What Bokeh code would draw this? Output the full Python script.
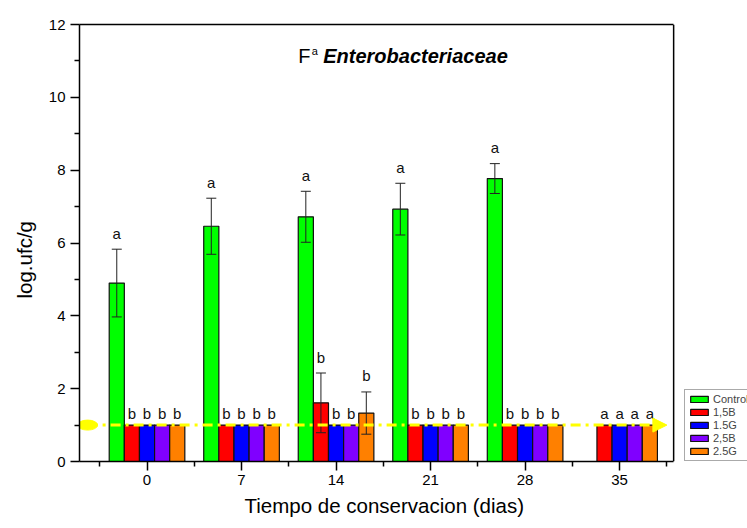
from bokeh.plotting import figure
from bokeh.models import (ColumnDataSource, FixedTicker, Whisker, TeeHead, Arrow,
                          NormalHead, Legend, LegendItem, Label, LinearAxis, Span,
                          Title)
from bokeh.core.properties import value
from bokeh.embed import file_html
from bokeh.resources import INLINE

# ---------------- data ----------------
days = [0, 7, 14, 21, 28, 35]
series_names = ["Control", "1,5B", "1.5G", "2,5B", "2.5G"]
series_colors = ["#00FF00", "#FF0000", "#0000FF", "#8000FF", "#FF8000"]

control = [4.90, 6.46, 6.72, 6.93, 7.77, None]
control_err = [0.93, 0.77, 0.70, 0.71, 0.41, None]
b15 = [1.0, 1.0, 1.61, 1.0, 1.0, 1.0]
b15_err = [0, 0, 0.82, 0, 0, 0]
g15 = [1.0, 1.0, 1.0, 1.0, 1.0, 1.0]
g15_err = [0, 0, 0, 0, 0, 0]
b25 = [1.0, 1.0, 1.0, 1.0, 1.0, 1.0]
b25_err = [0, 0, 0, 0, 0, 0]
g25 = [1.0, 1.0, 1.33, 1.0, 1.0, 1.0]
g25_err = [0, 0, 0.58, 0, 0, 0]

letters_control = ["a", "a", "a", "a", "a", ""]
letters_other = ["b", "b", "b", "b", "b", "a"]

limit_level = 1.0
y_ticks = [0, 2, 4, 6, 8, 10, 12]
y_minor = [1, 3, 5, 7, 9, 11]
x_minor = [-3.5, 3.5, 10.5, 17.5, 24.5, 31.5, 38.5]

x_title = "Tiempo de conservacion (dias)"
y_title = "log.ufc/g"

values = [control, b15, g15, b25, g25]
errors = [control_err, b15_err, g15_err, b25_err, g25_err]
letters = [letters_control] + [letters_other] * 4

bar_w = 1.12
offsets = [-2.24, -1.12, 0.0, 1.12, 2.24]

X0, X1 = -5, 39          # visible axis box
X_EXT = 44.47            # extra room on the right for the legend
FONT = "Liberation Sans"

p = figure(width=747, height=528, x_range=(X0, X_EXT), y_range=(0, 12),
           output_backend="svg", toolbar_location=None,
           min_border_left=78, min_border_right=0, min_border_top=24,
           min_border_bottom=67)
p.xgrid.visible = False
p.ygrid.visible = False
p.outline_line_color = None
p.background_fill_color = "white"
p.border_fill_color = "white"

legend_items = []
for name, col, vals, errs, lets, off in zip(series_names, series_colors, values,
                                            errors, letters, offsets):
    xs, tops, ups, lows, ls, lo_ff = [], [], [], [], [], []
    for d, v, e, l in zip(days, vals, errs, lets):
        if v is None:
            continue
        xs.append(d + off)
        tops.append(v)
        ee = e or 0
        ups.append(v + ee)
        lows.append(v - ee)
        ls.append(l)
        lo_ff.append(-16 if ee > 0 else -12)
    src = ColumnDataSource(dict(x=xs, top=tops, up=ups, low=lows, lab=ls, yo=lo_ff))
    r = p.vbar(x="x", top="top", width=bar_w, bottom=0, source=src,
               fill_color=col, line_color="#111111", line_width=1.2)
    legend_items.append(LegendItem(label=name, renderers=[r]))
    esrc = ColumnDataSource(dict(
        x=[x for x, u, t in zip(xs, ups, tops) if u > t],
        up=[u for u, t in zip(ups, tops) if u > t],
        low=[lo for lo, u, t in zip(lows, ups, tops) if u > t]))
    if len(esrc.data["x"]):
        w = Whisker(base="x", upper="up", lower="low", source=esrc, level="annotation",
                    line_color="#222222", line_width=1,
                    upper_head=TeeHead(size=10, line_color="#222222", line_width=1),
                    lower_head=TeeHead(size=10, line_color="#222222", line_width=1))
        p.add_layout(w)
    p.text(x="x", y="up", text="lab", source=src, text_align="center",
           text_baseline="alphabetic", y_offset="yo",
           text_font=value(FONT), text_font_size="15px", text_color="#111111")

# dash-dot limit line with arrow and start ellipse
p.ellipse(x=[-4.4], y=[limit_level], width=20, height=10, width_units="screen",
          height_units="screen", fill_color="#FFFF00", line_color="#FFFF00")
arrow = Arrow(x_start=-4.4, y_start=limit_level, x_end=38.5, y_end=limit_level,
              line_color="#FFFF00", line_width=3, line_dash="10 5 3 5",
              end=NormalHead(size=14, fill_color="#FFFF00", line_color="#FFFF00"))
p.add_layout(arrow)

# axes
p.xaxis.ticker = FixedTicker(ticks=days, minor_ticks=x_minor)
p.xaxis.bounds = (X0, X1)
p.yaxis.ticker = FixedTicker(ticks=y_ticks, minor_ticks=y_minor)
for ax in (p.xaxis[0], p.yaxis[0]):
    ax.axis_line_color = "black"
    ax.axis_line_width = 1.5
    ax.major_tick_line_color = "black"
    ax.major_tick_line_width = 1.5
    ax.minor_tick_line_color = "black"
    ax.minor_tick_line_width = 1.5
    ax.major_tick_in = 0
    ax.major_tick_out = 9
    ax.minor_tick_in = 0
    ax.minor_tick_out = 5
    ax.major_label_text_font = FONT
    ax.major_label_text_font_size = "15px"
    ax.major_label_text_color = "black"
p.xaxis.major_label_standoff = 4
p.yaxis.major_label_standoff = 5

# axis titles (as titles so they can be shifted like in the reference)
p.add_layout(Title(text=x_title, align="left", offset=165, standoff=9,
                   text_font=FONT, text_font_size="20.5px",
                   text_font_style="normal", text_color="black"), "below")
p.add_layout(Title(text=y_title, align="left", offset=163, standoff=20,
                   text_font=FONT, text_font_size="20.5px",
                   text_font_style="normal", text_color="black"), "left")

# top and right sides of the box
top_axis = LinearAxis(bounds=(X0, X1), ticker=FixedTicker(ticks=[]),
                      axis_line_color="black", axis_line_width=1.5,
                      major_tick_line_color=None, minor_tick_line_color=None,
                      major_label_text_font_size="0px")
p.add_layout(top_axis, "above")
p.add_layout(Span(location=X1, dimension="height", line_color="black",
                  line_width=1.5))

# title pieces
p.add_layout(Label(x=11.2, y=10.82, text="F", text_font=FONT,
                   text_font_size="20px", text_color="black"))
p.add_layout(Label(x=12.2, y=11.12, text="a", text_font=FONT,
                   text_font_size="11px", text_color="black"))
p.add_layout(Label(x=13.05, y=10.82, text="Enterobacteriaceae", text_font=FONT,
                   text_font_size="20px", text_font_style="bold italic",
                   text_color="black"))

legend = Legend(items=legend_items, location=(605, 0))
legend.glyph_width = 22
legend.glyph_height = 8
legend.label_height = 9
legend.spacing = 1
legend.padding = 3
legend.margin = 0
legend.label_standoff = 3
legend.label_text_font = FONT
legend.label_text_font_size = "11px"
legend.border_line_color = "#555555"
legend.border_line_width = 1
legend.background_fill_color = "white"
legend.background_fill_alpha = 1
p.add_layout(legend)

open("out.html", "w").write(file_html(p, INLINE))
